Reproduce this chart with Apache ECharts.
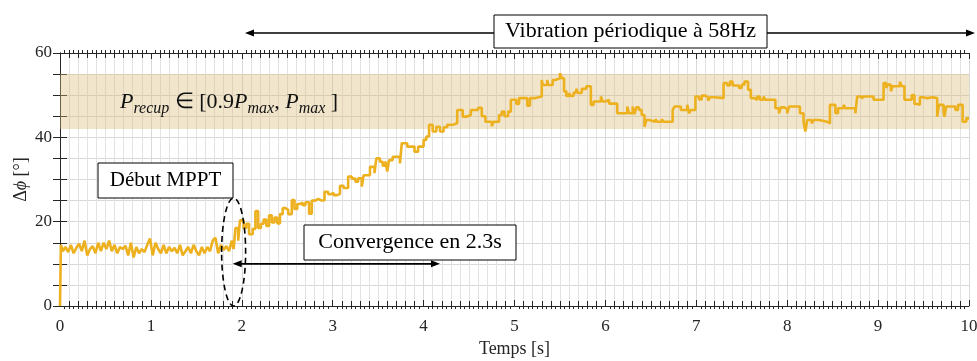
<!DOCTYPE html>
<html>
<head>
<meta charset="utf-8">
<script src="https://cdn.jsdelivr.net/npm/echarts@6/dist/echarts.min.js"></script>
<style>
  html, body { margin: 0; padding: 0; background: #ffffff; }
  #chart { width: 977px; height: 361px; }
</style>
</head>
<body>
<div id="chart"></div>
<script>
// Phase shift Δϕ (degrees) sampled over time (s).
const time = [
  0, 0.01, 0.03, 0.06, 0.09, 0.12, 0.15, 0.18, 0.21, 0.24, 0.27, 0.30, 0.33, 0.36, 0.39,
  0.42, 0.45, 0.48, 0.51, 0.54, 0.57, 0.60, 0.63, 0.66, 0.69, 0.72, 0.75, 0.78, 0.81, 0.84,
  0.87, 0.90, 0.93, 0.96, 0.99, 1.02, 1.05, 1.08, 1.11, 1.14, 1.17, 1.20, 1.23, 1.26, 1.29,
  1.32, 1.35, 1.38, 1.41, 1.44, 1.47, 1.50, 1.53, 1.56, 1.59, 1.62, 1.65, 1.68, 1.71, 1.74,
  1.77, 1.80, 1.83, 1.86, 1.89, 1.91, 1.93, 1.96, 1.98, 2.02, 2.05, 2.08, 2.12, 2.15, 2.18,
  2.21, 2.24, 2.27, 2.30, 2.33, 2.36, 2.39, 2.42, 2.45, 2.48, 2.51, 2.55, 2.58, 2.61, 2.64,
  2.67, 2.70, 2.74, 2.77, 2.81, 2.84, 2.88, 2.91, 2.95, 2.98, 3.01, 3.05, 3.08, 3.12, 3.17,
  3.21, 3.25, 3.28, 3.32, 3.34, 3.41, 3.46, 3.48, 3.52, 3.55, 3.58, 3.60, 3.62, 3.66, 3.74,
  3.76, 3.82, 3.90, 3.94, 4.00, 4.03, 4.06, 4.10, 4.14, 4.18, 4.22, 4.26, 4.33, 4.37, 4.43,
  4.47, 4.52, 4.60, 4.64, 4.68, 4.75, 4.77, 4.83, 4.86, 4.89, 4.93, 4.96, 5.02, 5.05, 5.14,
  5.17, 5.23, 5.30, 5.31, 5.36, 5.37, 5.42, 5.45, 5.50, 5.52, 5.545, 5.57, 5.60, 5.62, 5.65,
  5.68, 5.70, 5.74, 5.79, 5.84, 5.87, 5.95, 5.97, 6.00, 6.04, 6.13, 6.24, 6.26, 6.30, 6.32,
  6.34, 6.37, 6.40, 6.43, 6.45, 6.48, 6.55, 6.57, 6.62, 6.64, 6.74, 6.76, 6.83, 6.90, 6.92,
  6.94, 6.99, 7.03, 7.06, 7.10, 7.13, 7.15, 7.20, 7.30, 7.34, 7.37, 7.40, 7.47, 7.50, 7.53,
  7.57, 7.60, 7.64, 7.67, 7.70, 7.74, 7.76, 7.87, 7.91, 7.93, 7.97, 8.00, 8.02, 8.14, 8.18,
  8.20, 8.22, 8.27, 8.29, 8.35, 8.44, 8.47, 8.53, 8.56, 8.62, 8.64, 8.75, 8.77, 8.82, 8.84,
  8.95, 9.06, 9.09, 9.11, 9.14, 9.16, 9.24, 9.26, 9.29, 9.37, 9.40, 9.43, 9.46, 9.49, 9.54,
  9.60, 9.65, 9.67, 9.72, 9.73, 9.75, 9.85, 9.88, 9.93, 9.97, 10.0
];
const deltaPhi = [
  0, 14.5, 13, 14, 12.8, 14.5, 12.5, 13.8, 14.8, 13, 15.5, 12, 13.5, 14.2, 12.5,
  15, 13, 15, 13.5, 15.5, 13, 14.5, 12.5, 14, 13.5, 14.3, 12, 15, 11.5, 14,
  12.5, 13.5, 12.8, 14.5, 16, 12, 15, 13.5, 12.5, 14.5, 12.5, 14, 13, 13.8, 12.5,
  14.5, 12, 13, 14, 12.5, 14.5, 13, 12, 14, 12.5, 14, 13, 15.5, 16.2, 12.5,
  14.5, 13.3, 14.2, 13, 15.5, 13.5, 18.5, 15.5, 20.3, 18.5, 19.5, 17, 18.3, 22.5, 18.5,
  19.5, 20.5, 19, 21.5, 19.8, 21, 19.6, 21.8, 23.2, 22.8, 21.8, 25.1, 23, 24.2, 24.5,
  23.9, 24.6, 21.9, 25, 25.4, 25, 25.1, 27.1, 26.5, 26.8, 26.3, 26.6, 28.5, 28, 30.7,
  30.2, 29.5, 30.3, 28.3, 31, 33, 31.5, 35, 34.2, 33.3, 34.3, 31.9, 34.6, 35.4, 33.8,
  38.6, 37.8, 36.6, 37.8, 39.4, 40.2, 43, 41.4, 42.5, 41.4, 42.4, 43, 43.4, 46.5, 44.9,
  45.3, 46.5, 47, 45, 43.7, 42.6, 43.7, 45.3, 46.1, 45, 46.1, 48.9, 47.9, 49.3, 47.5,
  49.3, 49.7, 53.6, 52.4, 53.6, 52.4, 53.6, 54, 55.2, 54, 50.9, 49.8, 50.5, 49.8, 50.6,
  51.5, 50.5, 51.5, 52.1, 47.7, 48.5, 49.7, 48.5, 48.9, 48, 45.7, 47.3, 45.7, 47.3, 45.5,
  47.1, 46.5, 45.3, 42.5, 44.1, 43.7, 44.3, 43.7, 44.3, 43.7, 46.5, 47.3, 46.5, 47.7, 45.7,
  46.5, 49.7, 49, 49.9, 49.5, 48.7, 49.5, 49.3, 52.9, 52.3, 53.2, 52.3, 51.7, 52.5, 53.2,
  51.3, 49.3, 48.9, 49.7, 48.9, 49.7, 48.9, 46.9, 45.7, 47.1, 46.7, 45.7, 47.3, 45.7, 43.7,
  41.4, 44.1, 43.3, 44.1, 43.7, 43.3, 47.7, 45.7, 46.9, 47.7, 46.9, 45.7, 49.7, 49.2, 49.7,
  48.9, 52.9, 51.7, 52.5, 50.9, 52.1, 53.2, 52.1, 48.9, 50, 47.9, 47.7, 49.5, 49.3, 49.5,
  49.3, 44.9, 47.7, 46.1, 44.9, 47.3, 46.5, 47.7, 43.7, 44.5, 44.5
];
// Time at which the MPPT starts updating the phase in discrete steps
const mpptStartTime = 1.91;
// Harvested-power band P_recup ∈ [0.9 Pmax, Pmax], expressed in degrees
const bandRange = [42, 55];
// Annotation anchors (data units)
const mpptStart = [1.91, 12.8];
const convergence = { from: 1.9, to: 4.18, level: 10 };

const SERIF = '"Liberation Serif", "Times New Roman", serif';
const INK = '#262626';
const TRACE = '#EDB120';

const points = time.map((t, i) => [t, deltaPhi[i]]);
const freeRun = points.filter(p => p[0] <= mpptStartTime);
const stepped = points.filter(p => p[0] >= mpptStartTime);

const chart = echarts.init(document.getElementById('chart'));

function axisBase() {
  return {
    type: 'value', min: 0, max: 10, interval: 1,
    axisLine: { show: true, lineStyle: { color: INK, width: 1 } },
    splitLine: { show: false },
    axisLabel: { show: false }
  };
}

const option = {
  animation: false,
  backgroundColor: '#ffffff',
  grid: { left: 60, right: 8, top: 53, bottom: 55, containLabel: false, outerBoundsMode: 'none' },
  xAxis: [
    Object.assign(axisBase(), {
      position: 'bottom',
      name: 'Temps [s]', nameLocation: 'middle', nameGap: 34, nameMoveOverlap: false,
      nameTextStyle: { fontFamily: SERIF, fontSize: 18, color: INK },
      axisLabel: { show: true, fontFamily: SERIF, fontSize: 17, color: INK, margin: 12 },
      axisTick: { show: true, inside: true, length: 6, lineStyle: { color: INK } },
      minorTick: { show: true, splitNumber: 10, length: 5, lineStyle: { color: INK } },
      splitLine: { show: true, lineStyle: { color: '#d9d9d9', width: 1 } },
      minorSplitLine: { show: true, lineStyle: { color: '#e3e3e3', width: 1 } }
    }),
    Object.assign(axisBase(), {
      position: 'bottom',
      axisLine: { show: false },
      axisTick: { show: false },
      minorTick: { show: true, splitNumber: 20, length: 3, lineStyle: { color: INK } }
    }),
    Object.assign(axisBase(), {
      position: 'top',
      axisTick: { show: true, inside: true, length: 6, lineStyle: { color: INK } },
      minorTick: { show: true, splitNumber: 10, length: 5, lineStyle: { color: INK } }
    }),
    Object.assign(axisBase(), {
      position: 'top',
      axisLine: { show: false },
      axisTick: { show: false },
      minorTick: { show: true, splitNumber: 20, length: 3, lineStyle: { color: INK } }
    })
  ],
  yAxis: [
    {
      type: 'value', min: 0, max: 60, interval: 20, position: 'left',
      name: '{d|Δ}{p|ϕ}{d| [°]}', nameLocation: 'middle', nameGap: 30, nameMoveOverlap: false,
      nameTextStyle: {
        color: INK,
        rich: {
          d: { fontFamily: SERIF, fontSize: 18, color: INK },
          p: { fontFamily: SERIF, fontSize: 18, fontStyle: 'italic', color: INK }
        }
      },
      axisLine: { show: true, lineStyle: { color: INK, width: 1 } },
      axisLabel: { fontFamily: SERIF, fontSize: 17, color: INK, margin: 8 },
      axisTick: { show: true, inside: true, length: 7, lineStyle: { color: INK } },
      minorTick: { show: true, splitNumber: 4, length: 7, lineStyle: { color: INK } },
      splitLine: { show: true, lineStyle: { color: '#d9d9d9', width: 1 } },
      minorSplitLine: { show: true, lineStyle: { color: '#d9d9d9', width: 1 } }
    },
    {
      type: 'value', min: 0, max: 60, interval: 20, position: 'right',
      axisLine: { show: true, lineStyle: { color: INK, width: 1 } },
      axisLabel: { show: false },
      axisTick: { show: true, inside: true, length: 7, lineStyle: { color: INK } },
      minorTick: { show: true, splitNumber: 4, length: 7, lineStyle: { color: INK } },
      splitLine: { show: false }
    }
  ],
  series: [
    {
      // before MPPT: free-running phase, drawn as a continuous trace
      type: 'line',
      xAxisIndex: 0, yAxisIndex: 0,
      data: freeRun,
      showSymbol: false,
      lineStyle: { color: TRACE, width: 2.6 },
      itemStyle: { color: TRACE },
      z: 5,
      markArea: {
        silent: true,
        itemStyle: { color: 'rgba(217,190,120,0.38)' },
        data: [[{ yAxis: bandRange[0] }, { yAxis: bandRange[1] }]]
      }
    },
    {
      // MPPT active: phase updated in discrete, held steps
      type: 'line',
      xAxisIndex: 0, yAxisIndex: 0,
      data: stepped,
      step: 'end',
      showSymbol: false,
      lineStyle: { color: TRACE, width: 2.6 },
      itemStyle: { color: TRACE },
      z: 5
    }
  ]
};

chart.setOption(option);

// Annotation overlay
function arrowHead(x, y, dir) {
  const L = 9, H = 3.5;
  return {
    type: 'polygon', z: 100,
    shape: { points: [[x, y], [x - dir * L, y - H], [x - dir * L, y + H]] },
    style: { fill: '#000' }
  };
}
function doubleArrow(x1, x2, y) {
  return [
    { type: 'line', z: 100, shape: { x1: x1 + 4, y1: y, x2: x2 - 4, y2: y },
      style: { stroke: '#000', lineWidth: 1.6 } },
    arrowHead(x1, y, -1),
    arrowHead(x2, y, 1)
  ];
}
function textBox(x, y, w, h, text, size) {
  return [
    { type: 'rect', z: 110, shape: { x: x, y: y, width: w, height: h },
      style: { fill: '#fff', stroke: '#000', lineWidth: 1 } },
    { type: 'text', z: 111, x: x + w / 2, y: y + h / 2,
      style: {
        text: '{t|' + text + '}',
        align: 'center', verticalAlign: 'middle',
        textAlign: 'center', textVerticalAlign: 'middle',
        rich: { t: { fontFamily: SERIF, fontSize: size, fill: '#000', color: '#000', lineHeight: size + 4 } }
      } }
  ];
}

const toPx = p => chart.convertToPixel({ gridIndex: 0 }, p);
const convA = toPx([convergence.from, convergence.level]);
const convB = toPx([convergence.to, convergence.level]);
const ell = toPx(mpptStart);
const yTop = 33;

const elements = [].concat(
  doubleArrow(245, 975, yTop),
  textBox(494, 15, 273, 33, 'Vibration périodique à 58Hz', 22),
  doubleArrow(convA[0], convB[0], convA[1]),
  textBox(304, 225, 212, 35, 'Convergence en 2.3s', 22),
  textBox(98, 163, 135, 35, 'Début MPPT', 21),
  [{
    type: 'ellipse', z: 105,
    shape: { cx: ell[0], cy: ell[1], rx: 12, ry: 54 },
    style: { fill: 'none', stroke: '#000', lineWidth: 1.6, lineDash: [6, 4] }
  }, {
    type: 'text', z: 106, x: 120, y: 102,
    style: {
      text: '{i|P}{s|recup}{n| ∈ [0.9}{i|P}{s|max}{n|, }{i|P}{s|max}{n| ]}',
      fill: '#111', verticalAlign: 'middle', textVerticalAlign: 'middle',
      rich: {
        i: { fontFamily: SERIF, fontSize: 22, fontStyle: 'italic', lineHeight: 30, fill: '#111', verticalAlign: 'middle' },
        s: { fontFamily: SERIF, fontSize: 16, fontStyle: 'italic', lineHeight: 16, fill: '#111', verticalAlign: 'bottom' },
        n: { fontFamily: SERIF, fontSize: 22, lineHeight: 30, fill: '#111', verticalAlign: 'middle' }
      }
    }
  }]
);

chart.setOption({ graphic: { elements: elements } });
</script>
</body>
</html>
